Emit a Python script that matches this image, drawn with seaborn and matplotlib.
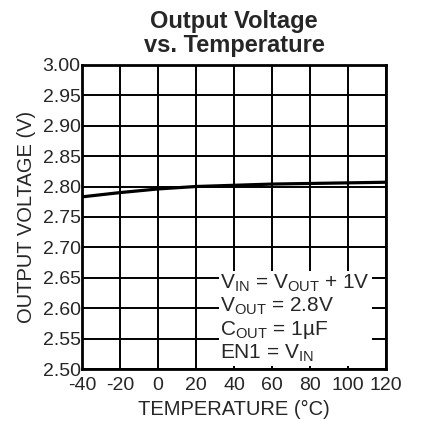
import matplotlib
matplotlib.use('Agg')
import matplotlib.pyplot as plt
import seaborn as sns
import pandas as pd

# datos
temperatura = [-40, -20, 0, 20, 40, 60, 80, 100, 120]
voltaje = [2.783, 2.790, 2.796, 2.800, 2.802, 2.804, 2.805, 2.806, 2.807]
xticks = [-40, -20, 0, 20, 40, 60, 80, 100, 120]
yticks = [2.50, 2.55, 2.60, 2.65, 2.70, 2.75, 2.80, 2.85, 2.90, 2.95, 3.00]

df = pd.DataFrame({'T': temperatura, 'V': voltaje})

sns.set_style('white')
plt.rcParams['font.family'] = ['Liberation Sans', 'DejaVu Sans']
plt.rcParams['mathtext.fontset'] = 'custom'
plt.rcParams['mathtext.rm'] = 'Liberation Sans'
plt.rcParams['mathtext.it'] = 'Liberation Sans'

fig = plt.figure(figsize=(4.23, 4.21), dpi=100)
ax = fig.add_axes([0.194, 0.1235, 0.719, 0.7225])

sns.lineplot(data=df, x='T', y='V', color='black', linewidth=2.3, ax=ax)

ax.set_xlim(-40, 120)
ax.set_ylim(2.50, 3.00)
ax.set_xticks(xticks)
ax.set_yticks(yticks)
ax.set_xticklabels([str(t) for t in xticks], fontsize=14)
ax.set_yticklabels([f'{v:.2f}' for v in yticks], fontsize=14)
ax.tick_params(axis='y', length=0, pad=1)
ax.tick_params(axis='x', length=0, pad=6)
ax.grid(True, color='black', linewidth=1.4)
for s in ax.spines.values():
    s.set_color('black')
    s.set_linewidth(2)

ax.set_xlabel('TEMPERATURE (°C)', fontsize=14.5, labelpad=4)
ax.set_ylabel('OUTPUT VOLTAGE (V)', fontsize=14.5, labelpad=5)
ax.set_title('Output Voltage\nvs. Temperature', fontsize=17, fontweight='bold',
             linespacing=1.05, pad=9)

texto = ('$\\mathrm{V_{IN}}$ = $\\mathrm{V_{OUT}}$ + 1V\n'
         '$\\mathrm{V_{OUT}}$ = 2.8V\n'
         '$\\mathrm{C_{OUT}}$ = 1µF\n'
         'EN1 = $\\mathrm{V_{IN}}$')
ax.text(0.455, 0.015, texto, transform=ax.transAxes, fontsize=15,
        va='bottom', ha='left', linespacing=1.12,
        bbox=dict(facecolor='white', edgecolor='none', pad=1))

fig.savefig('out.png', dpi=100)
